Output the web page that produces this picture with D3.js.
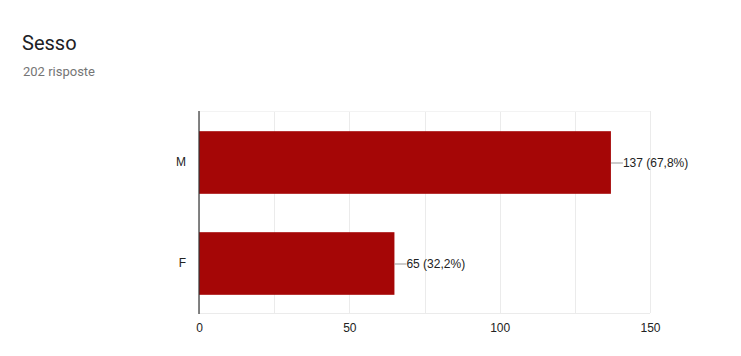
<!DOCTYPE html>
<html><head><meta charset="utf-8">
<script src="https://cdn.jsdelivr.net/npm/d3@7"></script>
<style>body{margin:0;background:#fff}svg{display:block}</style>
</head><body>
<script>
const categories = ["M", "F"];
const values = [137, 65];
const labels = ["137 (67,8%)", "65 (32,2%)"];
const ticks = [0, 50, 100, 150];
const gridTicks = [0, 25, 50, 75, 100, 125, 150];
const title = "Sesso";
const subtitle = "202 risposte";

const W = 741, H = 356;
const svg = d3.select("body").append("svg").attr("width", W).attr("height", H);
const x = d3.scaleLinear().domain([0, 150]).range([199, 650]);
const y = d3.scaleBand().domain(categories).range([112, 314]).paddingInner(0.38).paddingOuter(0.19);

svg.append("text").attr("x", 22).attr("y", 50).text(title)
  .attr("font-family", "Roboto").attr("font-size", 20).attr("fill", "#202124");
svg.append("text").attr("x", 23).attr("y", 76).text(subtitle)
  .attr("font-family", "Roboto").attr("font-size", 13).attr("fill", "#757575");

svg.append("g").selectAll("line").data(gridTicks).join("line")
  .attr("x1", d => Math.round(x(d)) + 0.5).attr("x2", d => Math.round(x(d)) + 0.5)
  .attr("y1", 111).attr("y2", 313).attr("stroke", "#ebebeb");
svg.append("line").attr("x1", 199).attr("x2", 650).attr("y1", 313.5).attr("y2", 313.5).attr("stroke", "#ebebeb");
svg.append("line").attr("x1", 199).attr("x2", 650).attr("y1", 111.5).attr("y2", 111.5).attr("stroke", "#f3f3f3");

svg.append("g").selectAll("rect").data(categories).join("rect")
  .attr("x", x(0)).attr("y", d => y(d)).attr("width", (d, i) => x(values[i]) - x(0))
  .attr("height", y.bandwidth()).attr("fill", "#a50606");

svg.append("line").attr("x1", 199).attr("x2", 199).attr("y1", 111).attr("y2", 314)
  .attr("stroke", "#333").attr("stroke-width", 1.2);

const ga = svg.append("g").attr("transform", "translate(0,313)")
  .call(d3.axisBottom(x).tickValues(ticks).tickSize(0).tickPadding(10));
ga.select(".domain").remove();
ga.selectAll("text").attr("font-family", "Arial, 'Liberation Sans'").attr("font-size", 12).attr("fill", "#222");

const gl = svg.append("g").attr("transform", "translate(199,0)")
  .call(d3.axisLeft(y).tickSize(0).tickPadding(13));
gl.select(".domain").remove();
gl.selectAll("text").attr("font-family", "Arial, 'Liberation Sans'").attr("font-size", 12).attr("fill", "#222");

const ann = svg.append("g").selectAll("g").data(categories).join("g");
ann.append("line").attr("x1", (d, i) => x(values[i])).attr("x2", (d, i) => x(values[i]) + 12)
  .attr("y1", d => y(d) + y.bandwidth() / 2 + 0.5).attr("y2", d => y(d) + y.bandwidth() / 2 + 0.5)
  .attr("stroke", "#999");
ann.append("text").attr("x", (d, i) => x(values[i]) + 12).attr("y", d => y(d) + y.bandwidth() / 2)
  .attr("dy", "0.35em").text((d, i) => labels[i])
  .attr("font-family", "Arial, 'Liberation Sans'").attr("font-size", 12).attr("fill", "#222");
</script>
</body></html>
